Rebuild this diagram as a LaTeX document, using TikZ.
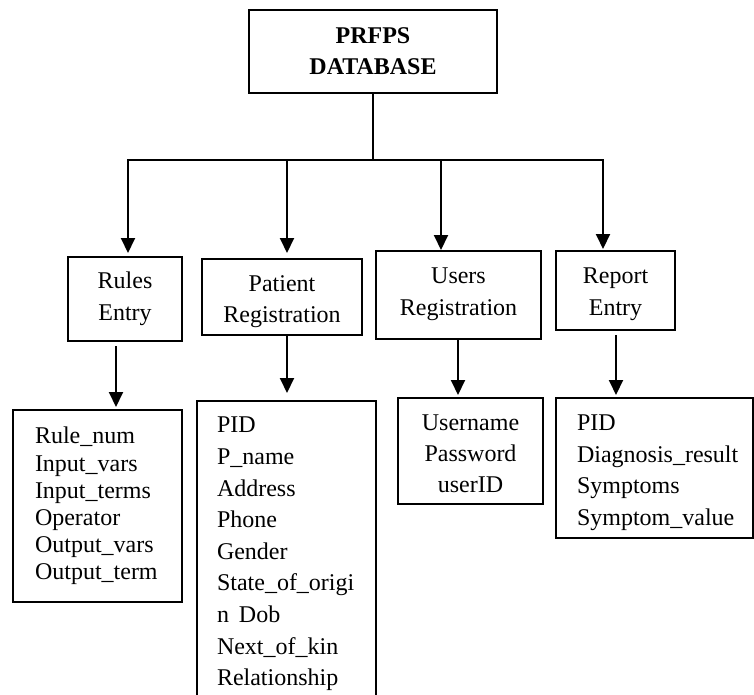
\documentclass[tikz,border=0pt]{standalone}
\usepackage{fontspec}
\setmainfont{Liberation Serif}
\usetikzlibrary{arrows.meta}
\hyphenpenalty=10000
\exhyphenpenalty=10000

\begin{document}
\begin{tikzpicture}[x=1pt,y=-1pt,
  box/.style={draw, line width=1.6pt, inner ysep=0pt, anchor=north},
  ctr/.style={box, inner xsep=0pt, align=center},
  lst/.style={box, inner xsep=#1, align=left},
  lst/.default=21pt,
  fs/.style={font=\fontsize{24}{#1}\selectfont},
  conn/.style={line width=2pt},
  arr/.style={conn, -{Triangle[width=14pt,length=15pt]}}]

\useasboundingbox (0,0) rectangle (754,695);
\clip (0,0) rectangle (754,695);

% root table
\node[ctr, text width=248pt, text height=34pt, text depth=49pt,
      font=\fontsize{24}{31}\selectfont\bfseries] (db) at (373,9) {PRFPS\\DATABASE};

% second level: the four modules
\node[ctr, fs=32, text width=114pt, text height=32pt, text depth=52pt] (rules) at (125,256) {Rules\\Entry};
\node[ctr, fs=31, text width=160pt, text height=33pt, text depth=43pt] (pat) at (282,258) {Patient\\Registration};
\node[ctr, fs=32, text width=165pt, text height=33pt, text depth=55pt] (users) at (458.5,250) {Users\\Registration};
\node[ctr, fs=32, text width=119pt, text height=33pt, text depth=46pt] (rep) at (615.5,250) {Report\\Entry};

% third level: the fields of each module
\node[lst=22pt, fs=27.2, text width=125pt, text height=34pt, text depth=158pt] (rlist) at (97.5,409)
  {Rule\_num\\Input\_vars\\Input\_terms\\Operator\\Output\_vars\\Output\_term};
\node[lst=20pt, fs=31.6, text width=139pt, text height=32pt, text depth=310pt] (plist) at (286.5,400)
  {PID\\P\_name\\Address\\Phone\\Gender\\State\_of\_origi\\n\hspace{10pt}Dob\\Next\_of\_kin\\Relationship};
\node[ctr, fs=31, text width=145pt, text height=33pt, text depth=73pt] (ulist) at (470.5,397)
  {Username\\Password\\userID};
\node[lst, fs=31.5, text width=155pt, text height=33pt, text depth=107pt] (elist) at (654.5,397)
  {PID\\Diagnosis\_result\\Symptoms\\Symptom\_value};

% distribution bar
\coordinate (b1) at (128,160);
\coordinate (b2) at (287,160);
\coordinate (b3) at (441,160);
\coordinate (b4) at (603,160);
\draw[conn] (db.south) -- (db.south |- b1);
\draw[conn, line cap=rect] (b1) -- (b4);

\draw[arr, shorten >=3pt] (b1) -- (b1 |- rules.north);
\draw[arr, shorten >=5pt] (b2) -- (b2 |- pat.north);
\draw[arr] (b3) -- (b3 |- users.north);
\draw[arr, shorten >=1pt] (b4) -- (b4 |- rep.north);

% module to field list
\coordinate (s1) at (116,346);
\coordinate (s2) at (287,334);
\coordinate (s3) at (458,338);
\coordinate (s4) at (616,335);
\draw[arr, shorten >=2pt] (s1) -- (s1 |- rlist.north);
\draw[arr, shorten >=7pt] (s2) -- (s2 |- plist.north);
\draw[arr, shorten >=2pt] (s3) -- (s3 |- ulist.north);
\draw[arr, shorten >=2pt] (s4) -- (s4 |- elist.north);
\end{tikzpicture}
\end{document}
